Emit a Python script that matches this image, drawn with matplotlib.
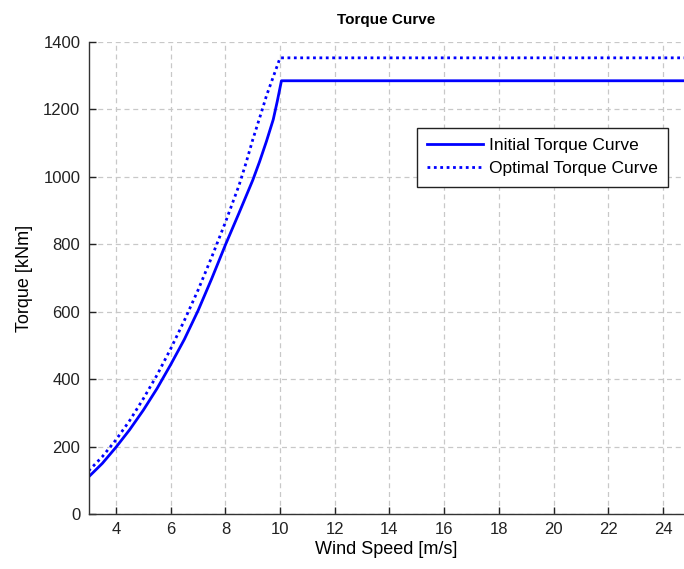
import matplotlib
matplotlib.use('Agg')
import matplotlib.pyplot as plt

plt.rcParams['font.family'] = ['Liberation Sans', 'DejaVu Sans']

# wind speed [m/s] and torque [kNm]
ws_initial = [3.0, 3.5, 4.0, 4.5, 5.0, 5.5, 6.0, 6.5, 7.0, 7.5, 8.0, 8.5, 9.0, 9.25, 9.5, 9.75, 9.9, 10.05, 25.0]
initial_torque = [110, 150, 198, 250, 308, 372, 443, 518, 603, 698, 798, 893, 990, 1045, 1105, 1170, 1225, 1285, 1285]

ws_optimal = [3.0, 3.5, 4.0, 4.5, 5.0, 5.5, 6.0, 6.5, 7.0, 7.5, 8.0, 8.5, 8.75, 9.0, 9.35, 9.5, 10.0, 25.0]
optimal_torque = [128, 170, 220, 277, 342, 412, 490, 574, 664, 762, 865, 975, 1040, 1110, 1200, 1240, 1353, 1353]

fig = plt.figure(figsize=(6.84, 5.69), dpi=100)
ax = fig.add_axes([0.1296, 0.0967, 0.8704, 0.8295])

ax.plot(ws_initial, initial_torque, color='#0000ff', lw=2.0, label='Initial Torque Curve')
ax.plot(ws_optimal, optimal_torque, color='#0000ff', lw=2.0, ls=(0, (1, 1.3)), label='Optimal Torque Curve')

ax.set_xlim(3, 24.77)
ax.set_ylim(0, 1400)
ax.set_xticks(range(4, 25, 2))
ax.set_yticks(range(0, 1401, 200))

ax.grid(True, color='#c8c8c8', ls=(0, (4, 3)), lw=0.9)
ax.tick_params(direction='in', length=5, width=1, colors='#222222', labelsize=12, pad=6)
ax.spines['top'].set_visible(False)
ax.spines['right'].set_visible(False)
for s in ('left', 'bottom'):
    ax.spines[s].set_color('#333333')
    ax.spines[s].set_linewidth(1.0)

ax.set_title('Torque Curve', fontsize=11, fontweight='bold', pad=13)
ax.set_xlabel('Wind Speed [m/s]', fontsize=13, labelpad=3)
ax.set_ylabel('Torque [kNm]', fontsize=13, labelpad=7)

leg = ax.legend(loc='upper right', bbox_to_anchor=(0.973, 0.818), fontsize=12.5,
                frameon=True, fancybox=False, framealpha=1, borderpad=0.6,
                handlelength=3.2, labelspacing=0.45, handletextpad=0.35,
                borderaxespad=0)
leg.get_frame().set_edgecolor('#222222')
leg.get_frame().set_linewidth(1.0)

fig.savefig('out.png', dpi=100)
